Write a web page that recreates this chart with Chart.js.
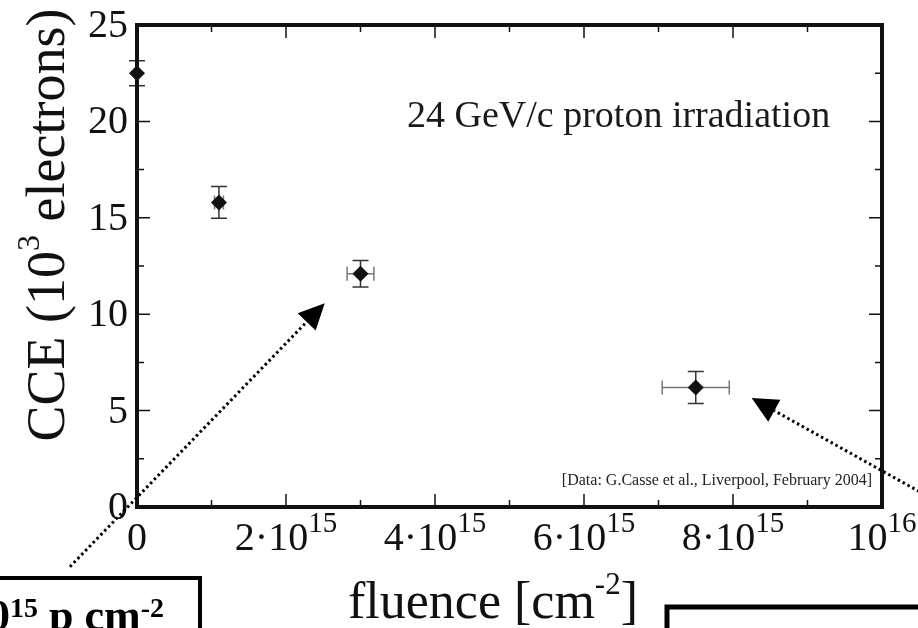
<!DOCTYPE html>
<html>
<head>
<meta charset="utf-8">
<script src="https://cdn.jsdelivr.net/npm/chart.js@4/dist/chart.umd.min.js"></script>
<style>
  body { margin: 0; background: #fff; }
  #wrap { width: 918px; height: 628px; position: relative; }
</style>
</head>
<body>
<div id="wrap"><canvas id="cceChart"></canvas></div>
<script>
// CCE vs fluence, 24 GeV/c proton irradiation

// Measured points (fluence in cm^-2, CCE in 10^3 electrons)
const fluence    = [0, 1.1e15, 3.0e15, 7.5e15];
const fluenceErr = [0, 0.06e15, 0.18e15, 0.45e15];
const cce        = [22.5, 15.8, 12.1, 6.2];
const cceErr     = [0.65, 0.82, 0.69, 0.83];

// Axis ticks
const xMajor    = [0, 2e15, 4e15, 6e15, 8e15, 1e16];
const xMinor    = [1e15, 3e15, 5e15, 7e15, 9e15];
const xTickBase = ["0", "2·10", "4·10", "6·10", "8·10", "10"];
const xTickExp  = ["", "15", "15", "15", "15", "16"];
const yMajor    = [0, 5, 10, 15, 20, 25];
const yMinor    = [2.5, 7.5, 12.5, 17.5, 22.5];
const yTickText = ["0", "5", "10", "15", "20", "25"];

// Arrows in data units: [from x, from y, tip x, tip y]
const arrows = [
    [-0.9e15, -3.1, 2.52e15, 10.57],
    [10.5e15, 0.8, 8.25e15, 5.65]
];

const SERIF = '"Liberation Serif", "Times New Roman", serif';

// draw text with superscripts, parts = [[text, isSup], ...]
function drawRich(ctx, parts, x, y, o) {
    const font = (s) => (o.bold ? 'bold ' : '') + s + 'px ' + SERIF;
    let w = 0;
    parts.forEach(p => {
        ctx.font = font(p[1] ? o.sup : o.size);
        w += ctx.measureText(p[0]).width;
    });
    let cx = x;
    if (o.align === 'center') cx = x - w / 2;
    if (o.align === 'right') cx = x - w;
    ctx.textAlign = 'left';
    ctx.textBaseline = 'alphabetic';
    ctx.fillStyle = o.color || '#111';
    parts.forEach(p => {
        ctx.font = font(p[1] ? o.sup : o.size);
        ctx.fillText(p[0], cx, p[1] ? y - o.rise : y);
        cx += ctx.measureText(p[0]).width;
    });
}

const errorBars = {
    id: 'errorBars',
    beforeDatasetsDraw(chart) {
        const ctx = chart.ctx, xs = chart.scales.x, ys = chart.scales.y;
        ctx.save();
        ctx.lineWidth = 1.5;
        for (let i = 0; i < fluence.length; i++) {
            const px = xs.getPixelForValue(fluence[i]);
            const py = ys.getPixelForValue(cce[i]);
            // vertical
            const t = ys.getPixelForValue(cce[i] + cceErr[i]);
            const b = ys.getPixelForValue(cce[i] - cceErr[i]);
            ctx.strokeStyle = '#333';
            ctx.beginPath();
            ctx.moveTo(px, t); ctx.lineTo(px, b);
            ctx.moveTo(px - 8, t); ctx.lineTo(px + 8, t);
            ctx.moveTo(px - 8, b); ctx.lineTo(px + 8, b);
            ctx.stroke();
            // horizontal
            if (fluenceErr[i] > 0) {
                const l = xs.getPixelForValue(fluence[i] - fluenceErr[i]);
                const r = xs.getPixelForValue(fluence[i] + fluenceErr[i]);
                ctx.strokeStyle = '#777';
                ctx.beginPath();
                ctx.moveTo(l, py); ctx.lineTo(r, py);
                ctx.moveTo(l, py - 7); ctx.lineTo(l, py + 7);
                ctx.moveTo(r, py - 7); ctx.lineTo(r, py + 7);
                ctx.stroke();
            }
        }
        ctx.restore();
    }
};

const frameAndText = {
    id: 'frameAndText',
    afterDraw(chart) {
        const ctx = chart.ctx, xs = chart.scales.x, ys = chart.scales.y;
        const a = chart.chartArea;
        ctx.save();

        // tick marks, inward on all four sides
        ctx.strokeStyle = '#111';
        ctx.lineWidth = 1.5;
        ctx.beginPath();
        const xt = (v, len) => {
            const p = xs.getPixelForValue(v);
            ctx.moveTo(p, a.bottom); ctx.lineTo(p, a.bottom - len);
            ctx.moveTo(p, a.top); ctx.lineTo(p, a.top + len);
        };
        const yt = (v, len) => {
            const p = ys.getPixelForValue(v);
            ctx.moveTo(a.left, p); ctx.lineTo(a.left + len, p);
            ctx.moveTo(a.right, p); ctx.lineTo(a.right - len, p);
        };
        xMajor.forEach(v => xt(v, 13));
        xMinor.forEach(v => xt(v, 7));
        yMajor.forEach(v => yt(v, 13));
        yMinor.forEach(v => yt(v, 7));
        ctx.stroke();

        // frame
        ctx.lineWidth = 4;
        ctx.strokeRect(a.left, a.top, a.right - a.left, a.bottom - a.top);

        // tick labels
        xMajor.forEach((v, i) => {
            const parts = [[xTickBase[i], false]];
            if (xTickExp[i]) parts.push([xTickExp[i], true]);
            drawRich(ctx, parts, xs.getPixelForValue(v), 550, {size: 40, sup: 29, rise: 18, align: 'center'});
        });
        yMajor.forEach((v, i) => {
            drawRich(ctx, [[yTickText[i], false]], 128, ys.getPixelForValue(v) + 12, {size: 40, sup: 28, rise: 0, align: 'right'});
        });

        // axis titles
        drawRich(ctx, [['fluence [cm', false], ['-2', true], [']', false]], 348, 618,
            {size: 52, sup: 31, rise: 24, align: 'left'});
        ctx.save();
        ctx.translate(64, 225);
        ctx.rotate(-Math.PI / 2);
        drawRich(ctx, [['CCE (10', false], ['3', true], [' electrons)', false]], 0, 0,
            {size: 54, sup: 32, rise: 25, align: 'center'});
        ctx.restore();

        // notes inside the plot
        drawRich(ctx, [['24 GeV/c proton irradiation', false]], 407, 127, {size: 38, align: 'left', color: '#1a1a1a'});
        drawRich(ctx, [['[Data: G.Casse et al., Liverpool, February 2004]', false]], 872, 485,
            {size: 16, align: 'right', color: '#222'});

        // dotted arrows
        arrows.forEach(ar => {
            const x0 = xs.getPixelForValue(ar[0]), y0 = ys.getPixelForValue(ar[1]);
            const x1 = xs.getPixelForValue(ar[2]), y1 = ys.getPixelForValue(ar[3]);
            const ang = Math.atan2(y1 - y0, x1 - x0);
            const headLen = 26, half = 12.5;
            const bx = x1 - Math.cos(ang) * headLen, by = y1 - Math.sin(ang) * headLen;
            ctx.strokeStyle = '#000';
            ctx.lineWidth = 3;
            ctx.setLineDash([2.5, 3]);
            ctx.beginPath();
            ctx.moveTo(x0, y0); ctx.lineTo(bx, by);
            ctx.stroke();
            ctx.setLineDash([]);
            ctx.fillStyle = '#000';
            ctx.beginPath();
            ctx.moveTo(x1, y1);
            ctx.lineTo(bx + Math.sin(ang) * half, by - Math.cos(ang) * half);
            ctx.lineTo(bx - Math.sin(ang) * half, by + Math.cos(ang) * half);
            ctx.closePath();
            ctx.fill();
        });

        // boxes cut by the bottom edge
        ctx.strokeStyle = '#000';
        ctx.lineWidth = 4;
        ctx.strokeRect(-10, 578, 210, 80);
        drawRich(ctx, [['10', false], ['15', true], [' p cm', false], ['-2', true]], 164, 630,
            {size: 44, sup: 28, rise: 13, align: 'right', bold: true, color: '#000'});
        ctx.lineWidth = 5;
        ctx.strokeRect(667, 607, 280, 60);

        ctx.restore();
    }
};

new Chart(document.getElementById('cceChart'), {
    type: 'scatter',
    data: {
        datasets: [{
            label: 'CCE',
            data: fluence.map((f, i) => ({x: f, y: cce[i]})),
            pointStyle: 'rectRot',
            pointRadius: 8,
            pointHoverRadius: 8,
            backgroundColor: '#111',
            borderColor: '#111',
            borderWidth: 0,
            clip: false
        }]
    },
    options: {
        responsive: true,
        maintainAspectRatio: false,
        animation: false,
        layout: {
            padding: {left: 137, top: 25, right: 36, bottom: 121}
        },
        scales: {
            x: {type: 'linear', min: 0, max: 1e16, display: false},
            y: {type: 'linear', min: 0, max: 25, display: false}
        },
        plugins: {
            legend: {display: false},
            tooltip: {enabled: false}
        }
    },
    plugins: [errorBars, frameAndText]
});
</script>
</body>
</html>
